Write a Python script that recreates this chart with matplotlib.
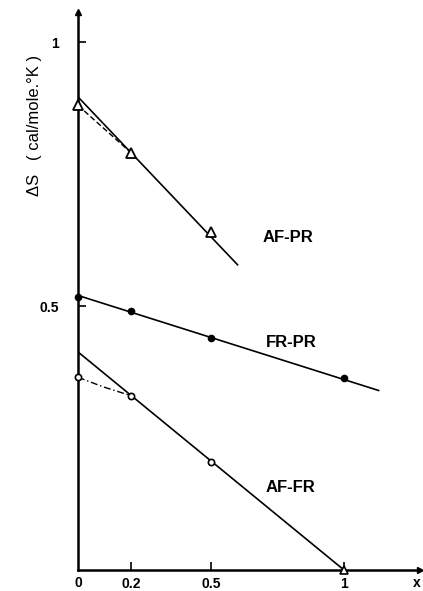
import numpy as np
import matplotlib.pyplot as plt

plt.rcParams['font.family'] = ['Liberation Sans', 'DejaVu Sans']

# measured points
x_afpr = [0, 0.2, 0.5]
y_afpr = [0.88, 0.79, 0.64]
x_frpr = [0, 0.2, 0.5, 1]
y_frpr = [0.517, 0.49, 0.44, 0.364]
x_affr = [0, 0.2, 0.5]
y_affr = [0.365, 0.33, 0.205]
x_affr_end = [1]
y_affr_end = [0.0]

# straight lines drawn through the points
fit_afpr_x = [0, 0.60]
fit_afpr_y = [0.896, 0.578]
fit_frpr_x = [0, 1.13]
fit_frpr_y = [0.52, 0.34]
fit_affr_x = [0, 1]
fit_affr_y = [0.413, 0.0]

# dashed / dash-dot bends near x=0
bend_afpr_x = [0, 0.2]
bend_afpr_y = [0.88, 0.79]
bend_affr_x = [0, 0.094, 0.2]
bend_affr_y = [0.365, 0.347, 0.33]

xticks = [0.2, 0.5, 1]
xticklabels = ['0.2', '0.5', '1']
yticks = [0.5, 1]
yticklabels = ['0.5', '1']

W, H = 423, 591
fig = plt.figure(figsize=(W / 100, H / 100), dpi=100)
x0, y0 = 78, 570
ux, uy = 266, 528
ax = fig.add_axes([x0 / W, (H - y0) / H, (420 - x0) / W, (y0 - 12) / H])
ax.set_xlim(0, (420 - x0) / ux)
ax.set_ylim(0, (y0 - 12) / uy)

for s in ['top', 'right']:
    ax.spines[s].set_visible(False)
ax.spines['left'].set_linewidth(1.8)
ax.spines['bottom'].set_linewidth(1.8)

# arrow heads on the axes
ax.plot(1, 0, '>', color='k', ms=4, transform=ax.transAxes, clip_on=False)
ax.plot(0, 1, '^', color='k', ms=4, transform=ax.transAxes, clip_on=False)

lw = 1.2
ax.plot(fit_afpr_x, fit_afpr_y, color='k', lw=lw)
ax.plot(fit_frpr_x, fit_frpr_y, color='k', lw=lw)
ax.plot(fit_affr_x, fit_affr_y, color='k', lw=lw)
ax.plot(bend_afpr_x, bend_afpr_y, color='k', lw=1.0, ls=(0, (4, 2)))
ax.plot(bend_affr_x, bend_affr_y, color='k', lw=1.0, ls=(0, (5, 2, 1, 2)))

ax.plot(x_afpr, y_afpr, '^', mfc='white', mec='k', ms=6.5, mew=1.3, ls='none', clip_on=False, zorder=5)
ax.plot(x_frpr, y_frpr, 'o', color='k', ms=4.5, ls='none', clip_on=False, zorder=5)
ax.plot(x_affr, y_affr, 'o', mfc='white', mec='k', ms=4.5, mew=1.2, ls='none', clip_on=False, zorder=5)
ax.plot(x_affr_end, y_affr_end, '^', mfc='white', mec='k', ms=5.5, mew=1.2, ls='none', clip_on=False, zorder=5)

ax.set_xticks(xticks)
ax.set_xticklabels(xticklabels, fontweight='bold')
ax.set_yticks(yticks)
ax.set_yticklabels(yticklabels, fontweight='bold')
ax.tick_params(axis='both', direction='in', length=6, width=1.2, labelsize=10)
ax.tick_params(axis='y', pad=14)
ax.tick_params(axis='x', pad=5)

fig.text(x0 / W, 1 - 583 / H, '0', ha='center', va='center', fontsize=10, fontweight='bold')
fig.text(417 / W, 1 - 583 / H, 'x', ha='center', va='center', fontsize=10, fontweight='bold')

ax.text(0.695, 0.629, 'AF-PR', fontsize=12, fontweight='bold', ha='left', va='center')
ax.text(0.705, 0.43, 'FR-PR', fontsize=12, fontweight='bold', ha='left', va='center')
ax.text(0.705, 0.157, 'AF-FR', fontsize=12, fontweight='bold', ha='left', va='center')

fig.text(35 / W, 1 - 125 / H, 'ΔS   ( cal/mole.°K )', rotation=90, ha='center', va='center', fontsize=12)

fig.savefig('out.png', dpi=100)
